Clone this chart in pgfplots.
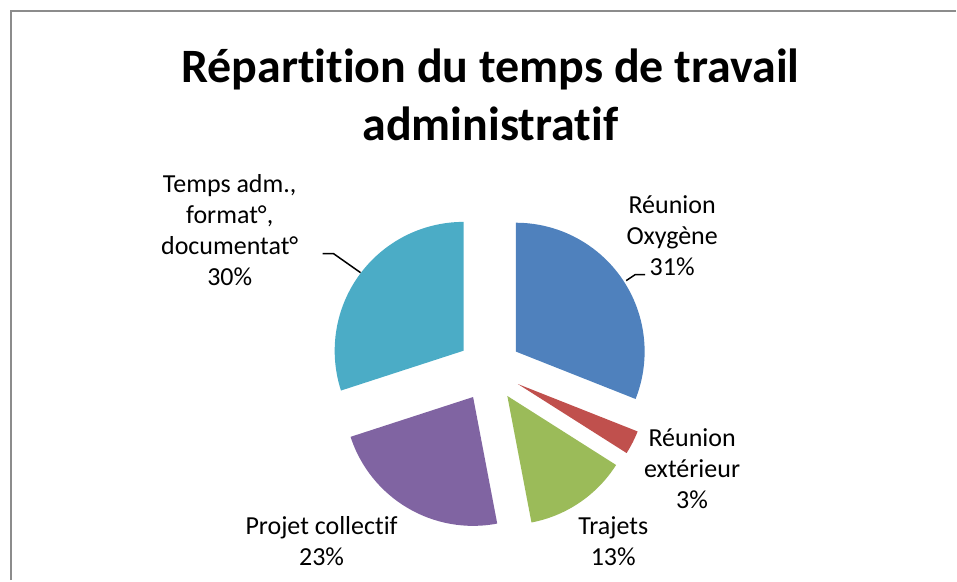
\documentclass[border=0pt]{standalone}
\usepackage{pgfplots}
\usepackage{pgfplotstable}
\usepackage{fontspec}
\setmainfont{Carlito}[Ligatures=NoCommon]
\pgfplotsset{compat=1.18}

\definecolor{oxblue}{HTML}{4F81BD}
\definecolor{oxred}{HTML}{C0504D}
\definecolor{oxgreen}{HTML}{9BBB59}
\definecolor{oxpurple}{HTML}{8064A2}
\definecolor{oxcyan}{HTML}{4BACC6}
\definecolor{frame}{HTML}{8C8C8C}

% share of each slice, clockwise from 12 o'clock
\pgfplotstableread{
value color
31 oxblue
3  oxred
13 oxgreen
23 oxpurple
30 oxcyan
}\piedata

\begin{document}
\begin{tikzpicture}
\begin{axis}[
	width=957pt, height=581pt, scale only axis,
	xmin=0, xmax=957, ymin=0, ymax=581,
	y dir=reverse,
	hide axis, clip=false,
]
\path (axis cs:0,0) (axis cs:957,581);
% frame (top and left edges only visible)
\draw[frame, line width=2.5pt] (axis cs:11,581) -- (axis cs:11,11) -- (axis cs:957,11);

% exploded pie slices
\xdef\cum{0}
\pgfplotsinvokeforeach{0,...,4}{
	\pgfplotstablegetelem{#1}{value}\of\piedata \let\v\pgfplotsretval
	\pgfplotstablegetelem{#1}{color}\of\piedata \let\c\pgfplotsretval
	\pgfmathsetmacro\sa{90-3.6*\cum}
	\pgfmathsetmacro\ea{90-3.6*(\cum+\v)}
	\pgfmathsetmacro\ma{(\sa+\ea)/2}
	\edef\temp{\noexpand\fill[\c] (axis cs:490,370) ++(\ma:32pt) -- ++(\sa:129pt)
		arc[start angle=\sa, end angle=\ea, radius=129pt] -- cycle;}
	\temp
	\pgfmathsetmacro\tmp{\cum+\v}\xdef\cum{\tmp}
}

% title
\node[font=\fontsize{48}{58}\selectfont\bfseries, align=center]
	at (axis cs:491,95) {Répartition du temps de travail\\administratif};

% data labels
\tikzset{lbl/.style={font=\fontsize{26}{31}\selectfont, align=center}}
\node[lbl] at (axis cs:673,236) {Réunion\\Oxygène\\31\%};
\node[lbl] at (axis cs:693,469) {Réunion\\extérieur\\3\%};
\node[lbl] at (axis cs:614,542) {Trajets\\13\%};
\node[lbl] at (axis cs:322,542) {Projet collectif\\23\%};
\node[lbl] at (axis cs:230,230) {Temps adm.,\\format°,\\documentat°\\30\%};

% leader lines
\draw[line width=1.5pt] (axis cs:627,281) -- (axis cs:636,275) -- (axis cs:646,275);
\draw[line width=1.5pt] (axis cs:323,254) -- (axis cs:334,254) -- (axis cs:361,273);
\end{axis}
\end{tikzpicture}
\end{document}
